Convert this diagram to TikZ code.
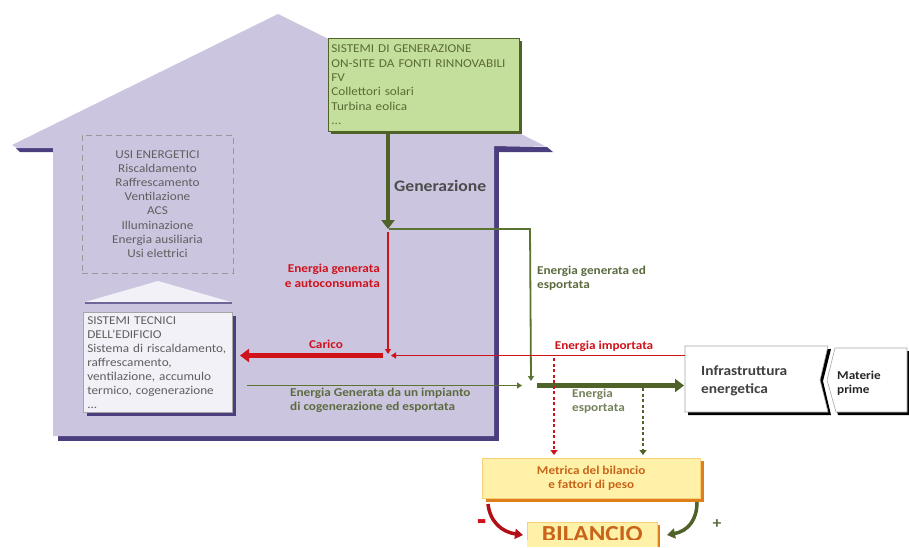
\documentclass[tikz,border=0pt]{standalone}
\usepackage{fontspec}
\setmainfont{Carlito}[FakeStretch=1.1]
\usetikzlibrary{arrows.meta}
\definecolor{houseL}{HTML}{CCC5E0}
\definecolor{houseD}{HTML}{4C3E7E}
\definecolor{gfill}{HTML}{C4DF9C}
\definecolor{gdark}{HTML}{4F6228}
\definecolor{gline}{HTML}{5A7331}
\definecolor{gtext}{HTML}{5C6B3F}
\definecolor{gboxtext}{HTML}{5A6B35}
\definecolor{redA}{HTML}{D0121B}
\definecolor{yfill}{HTML}{FFF2A8}
\definecolor{orangeA}{HTML}{E07E1A}
\definecolor{otext}{HTML}{C8651A}
\definecolor{grayA}{HTML}{5F5F5F}
\definecolor{tecfill}{HTML}{F3F1F8}
\tikzset{
  txt/.style={inner sep=1pt, font=\fontsize{12}{14.3}\selectfont},
  thickG/.style={draw=gdark, line width=4.5pt, -{Triangle[width=13pt,length=9pt]}},
  thickR/.style={draw=redA, line width=4.5pt, -{Triangle[width=13pt,length=9pt]}},
  thinG/.style={draw=gline, line width=1.8pt, -{Triangle[width=6pt,length=5pt]}},
  thinR/.style={draw=redA, line width=1.8pt, -{Triangle[width=6pt,length=5pt]}},
  dotR/.style={draw=redA, line width=2.4pt, dash pattern=on 3pt off 2.5pt, -{Triangle[width=7pt,length=5pt]}},
  dotG/.style={draw=gdark, line width=2.4pt, dash pattern=on 3pt off 2.5pt, -{Triangle[width=7pt,length=5pt]}},
  curveR/.style={draw=redA!85!black, line width=3.5pt, -{Triangle[width=10pt,length=8pt]}},
  curveG/.style={draw=gdark, line width=3.5pt, -{Triangle[width=10pt,length=8pt]}},
}
\begin{document}
\begin{tikzpicture}[x=1pt,y=-1pt]
\useasboundingbox (0,0) rectangle (909,547);
\fill[white] (0,0) rectangle (909,547);

% ---- house ----
\fill[houseD] (58,146) rectangle (499,441);
\fill[houseD] (493,146) -- (547,147) -- (553,152) -- (493,152) -- cycle;
\fill[houseD] (16,148) -- (53,146) -- (53,152) -- (20,152) -- cycle;
\fill[houseL] (12,145) -- (278,14) -- (545,146) -- (494,146) -- (494,436) -- (53,436) -- (53,148) -- (17,148) -- cycle;

% ---- generation box ----
\fill[gdark] (331,41) rectangle (522,134);
\node[draw=gdark, line width=0.8pt, fill=gfill, anchor=north west, minimum width=191pt, minimum height=93pt,
      inner xsep=3pt, inner ysep=0pt, text width=185pt, align=left, text=gboxtext,
      font=\fontsize{12}{14.4}\selectfont] (gen) at (328,38)
  {SISTEMI DI GENERAZIONE\\ON-SITE DA FONTI RINNOVABILI\\FV\\Collettori solari\\Turbina eolica\\...};

% ---- usi energetici ----
\node[draw=gray!80, line width=0.8pt, dash pattern=on 6pt off 4pt, minimum width=151pt, minimum height=138pt,
      align=center, text=grayA, inner sep=0pt, font=\fontsize{12}{14.2}\selectfont] (usi) at (157.5,204)
  {USI ENERGETICI\\Riscaldamento\\Raffrescamento\\Ventilazione\\ACS\\Illuminazione\\Energia ausiliaria\\Usi elettrici};

% ---- sistemi tecnici ----
\fill[tecfill] (85,302) -- (158,281) -- (231,302) -- cycle;
\draw[houseD!80, line width=2pt] (85,302.5) -- (232,302.5);
\fill[houseD] (87,316) rectangle (236,416);
\node[draw=gray!70, line width=0.6pt, fill=tecfill, anchor=north west, minimum width=149pt, minimum height=100pt,
      inner xsep=4pt, inner ysep=0pt, text width=141pt, align=left, text=grayA,
      font=\fontsize{12}{14}\selectfont] (tec) at (83,312)
  {SISTEMI TECNICI\\DELL’EDIFICIO\\Sistema di riscaldamento,\\raffrescamento,\\ventilazione, accumulo\\termico, cogenerazione\\...};

% ---- infrastructure ----
\fill[black] (688,349) -- (831,349) -- (823,381) -- (831,415) -- (688,415) -- cycle;
\filldraw[fill=white, draw=gray!70, line width=0.6pt] (685,346) -- (828,346) -- (820,380) -- (828,412) -- (685,412) -- cycle;
\node[txt, anchor=west, align=left, text=black!75, font=\bfseries\fontsize{14}{18}\selectfont] (infra) at (700,381)
  {Infrastruttura\\energetica};
\fill[black] (836,351) -- (909,351) -- (909,415) -- (838,415) -- (829,383) -- cycle;
\filldraw[fill=white, draw=gray!70, line width=0.6pt] (835,348) -- (907,348) -- (907,412) -- (836,412) -- (827,380) -- cycle;
\node[txt, anchor=west, align=left, text=black!85, font=\bfseries\fontsize{12}{14.5}\selectfont] (mat) at (836,383)
  {Materie\\prime};

% ---- metric box ----
\fill[orangeA] (486,461) rectangle (704,502);
\node[draw=yfill!70!orangeA, line width=0.5pt, fill=yfill, anchor=north west, minimum width=218pt, minimum height=40pt,
      align=center, text=otext, inner sep=0pt, font=\bfseries\fontsize{12}{14}\selectfont] (met) at (482,458)
  {Metrica del bilancio\\e fattori di peso};

% ---- bilancio ----
\fill[orangeA] (531,525) rectangle (660,547);
\fill[yfill] (527,540) rectangle (657,547);
\node[draw=yfill!70!orangeA, line width=0.5pt, fill=yfill, anchor=north west, minimum width=130pt, minimum height=24pt,
      inner sep=0pt, text=otext, font=\bfseries\fontsize{23}{25}\selectfont] (bil) at (527,521.5)
  {BILANCIO};
\fill[yfill] (527.3,540) rectangle (656.7,547);
\node[txt, text=redA, font=\bfseries\fontsize{16}{16}\selectfont] (minus) at (482,526) {\scalebox{1.7}[2.4]{-}};
\node[txt, text=gtext, font=\bfseries\fontsize{16}{16}\selectfont] (plus) at (717,524) {+};

% ---- coordinates ----
\coordinate (genOut) at (388,131);
\coordinate (j1) at (388,229);
\coordinate (jG) at (530,229);
\coordinate (jGend) at (531,381);
\coordinate (jR) at (388,232);
\coordinate (jRend) at (388,354);
\coordinate (impS) at (685,355.5);
\coordinate (impE) at (391,355.5);
\coordinate (carS) at (383,355.5);
\coordinate (carE) at (240,355.5);
\coordinate (cogS) at (247,385.5);
\coordinate (cogE) at (522,385.5);
\coordinate (expS) at (537,385.5);
\coordinate (expE) at (684,385.5);
\coordinate (dR) at (554,358);
\coordinate (dRe) at (554,455);
\coordinate (dG) at (643,388);
\coordinate (dGe) at (643,455);

% ---- connectors ----
\draw[thickG] (genOut) -- (j1);
\node[txt, anchor=west, text=black!70, font=\bfseries\fontsize{16}{18}\selectfont] (genlab) at (393,186) {Generazione};
\draw[thinG] (389,229) -- (jG) -- (jGend);
\draw[thinR] (jR) -- (jRend);
\node[txt, anchor=east, align=right, text=redA, font=\bfseries\fontsize{12}{15}\selectfont] (autolab) at (381,275.5)
  {Energia generata\\e autoconsumata};
\draw[thinR] (impS) -- (impE);
\node[txt, text=redA, font=\bfseries\fontsize{12}{14}\selectfont] (implab) at (604,346) {Energia importata};
\draw[thickR] (carS) -- (carE);
\node[txt, text=redA, font=\bfseries\fontsize{12}{14}\selectfont] (carlab) at (326,344) {Carico};
\node[txt, anchor=west, align=left, text=gtext, font=\bfseries\fontsize{12}{14.5}\selectfont] (gelab) at (536,278)
  {Energia generata ed\\esportata};
\draw[thinG] (cogS) -- (cogE);
\node[txt, anchor=west, align=left, text=gtext, font=\bfseries\fontsize{12}{14.2}\selectfont] (coglab) at (289,400.5)
  {Energia Generata da un impianto\\di cogenerazione ed esportata};
\draw[thickG] (expS) -- (expE);
\node[txt, anchor=west, align=left, text=gtext!85, font=\bfseries\fontsize{12}{14}\selectfont] (explab) at (571,401.5)
  {Energia\\esportata};
\draw[dotR] (dR) -- (dRe);
\draw[dotG] (dG) -- (dGe);
\draw[curveR] (488,504) .. controls (490,522) and (502,532) .. (523,535);
\draw[curveG] (697,502) .. controls (697,520) and (688,531) .. (667,535);
\end{tikzpicture}
\end{document}
